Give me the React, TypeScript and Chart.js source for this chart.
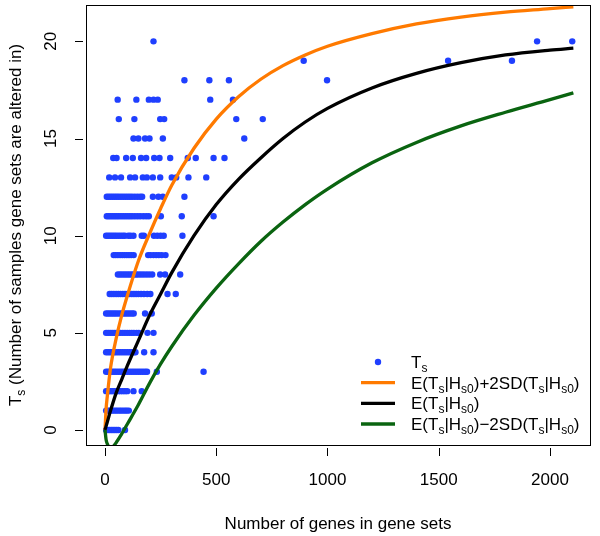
import React, { useEffect, useRef } from "react";
import { Chart, registerables } from "chart.js";

Chart.register(...registerables);

const FONT = '"Liberation Sans", Arial, Helvetica, sans-serif';

const xTicks = [0, 500, 1000, 1500, 2000];
const yTicks = [0, 5, 10, 15, 20];
const xTitle = "Number of genes in gene sets";
const yTitle = "T_{s} (Number of samples gene sets are altered in)";

// Number of genes for gene sets, grouped by T_s (index = number of samples altered in)
const genesTs0 = [5, 12, 20, 28, 36, 44, 52, 60, 90];
const genesTs1 = [5, 13, 21, 30, 38, 47, 55, 64, 72, 81, 90, 98, 107];
const genesTs2 = [5, 14, 23, 32, 41, 50, 60, 70, 80, 90, 100, 128, 165];
const genesTs3 = [5, 14, 23, 32, 41, 50, 60, 70, 80, 90, 100, 110, 120, 130, 140, 150, 160, 170, 180, 189, 233, 443];
const genesTs4 = [5, 14, 23, 32, 41, 50, 60, 70, 80, 90, 100, 110, 120, 130, 137, 176, 218];
const genesTs5 = [5, 14, 23, 32, 41, 50, 60, 70, 80, 90, 100, 110, 120, 130, 142, 152, 191, 218];
const genesTs6 = [5, 14, 23, 32, 41, 50, 60, 70, 80, 90, 100, 110, 120, 129, 180, 210];
const genesTs7 = [21, 30, 40, 50, 60, 70, 80, 90, 100, 110, 120, 130, 140, 150, 162, 175, 190, 204, 281, 318];
const genesTs8 = [58, 68, 78, 88, 98, 108, 118, 128, 138, 148, 160, 172, 185, 198, 212, 248, 270, 338];
const genesTs9 = [39, 48, 58, 68, 78, 88, 98, 108, 118, 129, 194, 205, 218, 230, 242, 255, 272];
const genesTs10 = [5, 14, 23, 32, 41, 50, 60, 70, 80, 89, 105, 115, 128, 165, 175, 220, 235, 250, 264, 348];
const genesTs11 = [8, 17, 26, 35, 44, 53, 62, 72, 82, 92, 102, 112, 122, 134, 146, 158, 172, 185, 197, 251, 345, 488];
const genesTs12 = [8, 17, 26, 35, 44, 53, 62, 72, 82, 92, 102, 112, 122, 134, 146, 158, 167, 215, 240, 260, 357];
const genesTs13 = [19, 45, 72, 113, 135, 170, 188, 215, 248, 300, 320, 375, 455];
const genesTs14 = [37, 52, 95, 125, 162, 185, 221, 245, 293, 372, 408, 488, 537];
const genesTs15 = [128, 150, 180, 200, 260, 626];
const genesTs16 = [62, 132, 248, 266, 590, 709];
const genesTs17 = [57, 141, 197, 218, 237, 473, 575];
const genesTs18 = [357, 469, 557, 998];
const genesTs19 = [893, 1542, 1829];
const genesTs20 = [218, 1942, 2100];

const tsRows = [
  genesTs0, genesTs1, genesTs2, genesTs3, genesTs4, genesTs5, genesTs6,
  genesTs7, genesTs8, genesTs9, genesTs10, genesTs11, genesTs12, genesTs13,
  genesTs14, genesTs15, genesTs16, genesTs17, genesTs18, genesTs19, genesTs20,
];

// Curves
const curveGenes = [0, 5, 10, 25, 50, 75, 100, 150, 200, 250, 300, 400, 500, 600, 700, 800, 900, 1000, 1200, 1400, 1600, 1800, 2000, 2105];
const upperCurve = [0, 1.1, 1.7, 3.2, 4.7, 5.9, 6.9, 8.7, 10.1, 11.4, 12.6, 14.5, 16.0, 17.15, 18.05, 18.75, 19.3, 19.75, 20.4, 20.9, 21.25, 21.5, 21.68, 21.78];
const expectedCurve = [0, 0.2, 0.4, 1.0, 1.9, 2.6, 3.3, 4.6, 5.9, 7.0, 8.1, 10.0, 11.6, 12.9, 14.0, 15.0, 15.85, 16.55, 17.6, 18.35, 18.9, 19.3, 19.55, 19.65];
const lowerCurve = [0, -0.5, -0.7, -0.95, -0.65, -0.2, 0.3, 1.3, 2.4, 3.4, 4.3, 5.9, 7.3, 8.55, 9.7, 10.7, 11.6, 12.4, 13.75, 14.8, 15.65, 16.35, 17.0, 17.35];

const legendLabels = [
  "T_{s}",
  "E(T_{s}|H_{s0})+2SD(T_{s}|H_{s0})",
  "E(T_{s}|H_{s0})",
  "E(T_{s}|H_{s0})\u22122SD(T_{s}|H_{s0})",
];

const BLUE = "#1f3fff";
const ORANGE = "#ff7a00";
const BLACK = "#000000";
const GREEN = "#0a6410";

type Part = { t: string; sub: boolean };

function parseRich(s: string): Part[] {
  const parts: Part[] = [];
  const re = /_\{([^}]*)\}/g;
  let last = 0;
  let m: RegExpExecArray | null;
  while ((m = re.exec(s))) {
    if (m.index > last) parts.push({ t: s.slice(last, m.index), sub: false });
    parts.push({ t: m[1], sub: true });
    last = m.index + m[0].length;
  }
  if (last < s.length) parts.push({ t: s.slice(last), sub: false });
  return parts;
}

function drawRich(ctx: CanvasRenderingContext2D, s: string, x: number, y: number, align: "left" | "center") {
  const big = `17px ${FONT}`;
  const small = `12px ${FONT}`;
  const parts = parseRich(s);
  let w = 0;
  for (const p of parts) {
    ctx.font = p.sub ? small : big;
    w += ctx.measureText(p.t).width;
  }
  let cx = align === "center" ? x - w / 2 : x;
  ctx.textAlign = "left";
  ctx.textBaseline = "alphabetic";
  for (const p of parts) {
    ctx.font = p.sub ? small : big;
    ctx.fillText(p.t, cx, y + (p.sub ? 4 : 0));
    cx += ctx.measureText(p.t).width;
  }
}

const decorPlugin = {
  id: "decor",
  afterDraw(chart: any) {
    const ctx: CanvasRenderingContext2D = chart.ctx;
    const { left, right, top, bottom } = chart.chartArea;
    const xs = chart.scales.x;
    const ys = chart.scales.y;
    ctx.save();
    ctx.fillStyle = "#000";
    ctx.strokeStyle = "#000";
    ctx.lineWidth = 1;
    // box
    ctx.strokeRect(Math.round(left) + 0.5, Math.round(top) + 0.5, Math.round(right - left), Math.round(bottom - top));
    // ticks
    ctx.beginPath();
    for (const v of xTicks) {
      const px = Math.round(xs.getPixelForValue(v)) + 0.5;
      ctx.moveTo(px, bottom + 3);
      ctx.lineTo(px, bottom + 11);
    }
    for (const v of yTicks) {
      const py = Math.round(ys.getPixelForValue(v)) + 0.5;
      ctx.moveTo(left - 3, py);
      ctx.lineTo(left - 11, py);
    }
    ctx.stroke();
    // x tick labels
    ctx.font = `17px ${FONT}`;
    ctx.textAlign = "center";
    ctx.textBaseline = "alphabetic";
    for (const v of xTicks) {
      ctx.fillText(String(v), xs.getPixelForValue(v), bottom + 40);
    }
    // y tick labels (rotated)
    for (const v of yTicks) {
      ctx.save();
      ctx.translate(left - 30, ys.getPixelForValue(v));
      ctx.rotate(-Math.PI / 2);
      ctx.textAlign = "center";
      ctx.fillText(String(v), 0, 0);
      ctx.restore();
    }
    // x title
    drawRich(ctx, xTitle, (left + right) / 2, bottom + 84, "center");
    // y title
    ctx.save();
    ctx.translate(21, (top + bottom) / 2);
    ctx.rotate(-Math.PI / 2);
    drawRich(ctx, yTitle, 0, 0, "center");
    ctx.restore();
    // legend
    const rowY = [362, 382.7, 403.4, 424];
    const lineX0 = 361, lineX1 = 395, textX = 411;
    const colors = [BLUE, ORANGE, BLACK, GREEN];
    for (let i = 0; i < legendLabels.length; i++) {
      const y = rowY[i];
      if (i === 0) {
        ctx.fillStyle = BLUE;
        ctx.beginPath();
        ctx.arc((lineX0 + lineX1) / 2, y, 3.2, 0, Math.PI * 2);
        ctx.fill();
      } else {
        ctx.strokeStyle = colors[i];
        ctx.lineWidth = 3.3;
        ctx.beginPath();
        ctx.moveTo(lineX0, y);
        ctx.lineTo(lineX1, y);
        ctx.stroke();
      }
      ctx.fillStyle = "#000";
      drawRich(ctx, legendLabels[i], textX, y + 6, "left");
    }
    ctx.restore();
  },
};

export default function App() {
  const ref = useRef<HTMLCanvasElement | null>(null);
  useEffect(() => {
    if (!ref.current) return;
    const points: { x: number; y: number }[] = [];
    tsRows.forEach((row, ts) => row.forEach((g) => points.push({ x: g, y: ts })));
    const mk = (ys: number[]) => curveGenes.map((g, i) => ({ x: g, y: ys[i] }));
    const lineDs = (label: string, ys: number[], color: string, order: number) =>
      ({
        label,
        data: mk(ys),
        showLine: true,
        borderColor: color,
        borderWidth: 3.3,
        pointRadius: 0,
        cubicInterpolationMode: "monotone",
        order,
      } as any);
    const chart = new Chart(ref.current, {
      type: "scatter",
      data: {
        datasets: [
          lineDs("lower", lowerCurve, GREEN, 0),
          lineDs("expected", expectedCurve, BLACK, 1),
          lineDs("upper", upperCurve, ORANGE, 2),
          {
            label: "Ts",
            data: points,
            pointRadius: 3.2,
            pointBorderWidth: 0,
            backgroundColor: BLUE,
            borderColor: BLUE,
            order: 3,
          } as any,
        ],
      },
      options: {
        animation: false,
        responsive: true,
        maintainAspectRatio: false,
        events: [],
        layout: { padding: { left: 86, top: 5, right: 10, bottom: 91 } },
        plugins: { legend: { display: false }, tooltip: { enabled: false } },
        scales: {
          x: { type: "linear", min: -85.4, max: 2179.8, display: false },
          y: { type: "linear", min: -0.77, max: 21.87, display: false },
        },
      },
      plugins: [decorPlugin],
    });
    return () => chart.destroy();
  }, []);
  return (
    <div style={{ position: "fixed", left: 0, top: 0, width: 600, height: 536, background: "#fff" }}>
      <canvas ref={ref} />
    </div>
  );
}
